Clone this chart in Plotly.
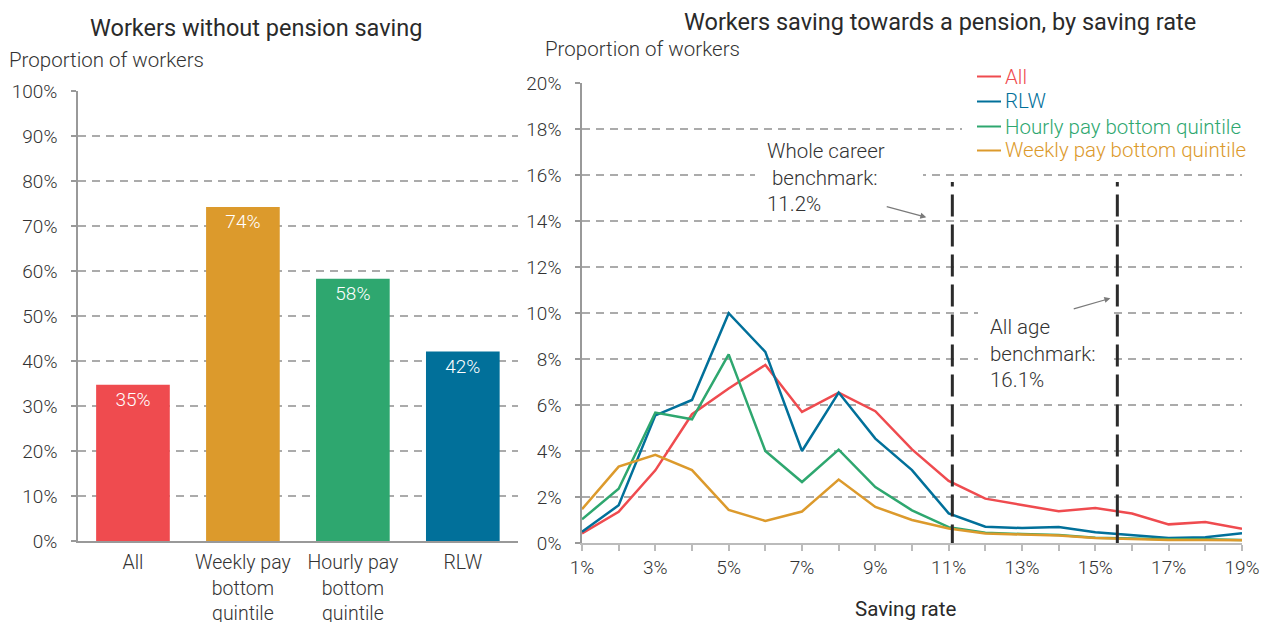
import plotly.graph_objects as go

# ---------------- data ----------------
bar_categories = ["All", "Weekly pay<br>bottom<br>quintile", "Hourly pay<br>bottom<br>quintile", "RLW"]
bar_values = [34.7, 74.2, 58.3, 42.1]
bar_labels = ["35%", "74%", "58%", "42%"]

saving_rate = list(range(1, 20))
all_workers = [0.42, 1.36, 3.16, 5.6, 6.72, 7.74, 5.70, 6.54, 5.73, 4.07, 2.70,
               1.93, 1.65, 1.38, 1.52, 1.28, 0.81, 0.91, 0.62]
rlw = [0.49, 1.64, 5.55, 6.22, 9.99, 8.31, 4.0, 6.54, 4.54, 3.17, 1.29,
       0.71, 0.65, 0.70, 0.47, 0.35, 0.22, 0.25, 0.42]
hourly_bottom = [1.03, 2.36, 5.67, 5.38, 8.20, 4.0, 2.65, 4.06, 2.43, 1.42, 0.69,
                 0.45, 0.39, 0.35, 0.23, 0.19, 0.16, 0.16, 0.13]
weekly_bottom = [1.47, 3.32, 3.83, 3.17, 1.44, 0.96, 1.37, 2.76, 1.57, 1.0, 0.63,
                 0.41, 0.37, 0.33, 0.22, 0.17, 0.13, 0.13, 0.12]
series_names = ["All", "RLW", "Hourly pay bottom quintile", "Weekly pay bottom quintile"]

left_yticks = list(range(0, 101, 10))
left_yticktext = [f"{v}%" for v in left_yticks]
right_yticks = list(range(0, 21, 2))
right_yticktext = [f"{v}%" for v in right_yticks]
right_xticktext = [f"{v}%" if v % 2 == 1 else "" for v in saving_rate]

benchmarks = [11.1, 15.6]

RED = "#EF4B4F"
ORANGE = "#DC9A2C"
GREEN = "#2EA76F"
BLUE = "#01709A"
TEXT = "#333333"
GRID = "#ABABAB"
FONT = "Roboto"
W, H = 1266, 622

fig = go.Figure()

fig.add_trace(go.Bar(
    x=bar_categories, y=bar_values, text=bar_labels,
    marker=dict(color=[RED, ORANGE, GREEN, BLUE], line=dict(width=0)),
    textposition="inside", insidetextanchor="end",
    textfont=dict(color="white", size=19, family=FONT, weight=300),
    width=0.67, xaxis="x", yaxis="y", showlegend=False, cliponaxis=False,
))

series_vals = [all_workers, rlw, hourly_bottom, weekly_bottom]
series_cols = [RED, BLUE, GREEN, ORANGE]
for name, vals, col in zip(series_names, series_vals, series_cols):
    fig.add_trace(go.Scatter(
        x=saving_rate, y=vals, mode="lines", name=name,
        line=dict(color=col, width=2.5), showlegend=False,
        xaxis="x2", yaxis="y2",
    ))


def px_rect(x0, x1, y0, y1):
    fig.add_shape(type="rect", xref="paper", yref="paper", layer="above",
                  x0=x0 / W, x1=x1 / W, y0=1 - y1 / H, y1=1 - y0 / H,
                  fillcolor="white", line=dict(width=0))


# white boxes behind legend and annotation texts (hide the gridlines there)
px_rect(962, 1262, 62, 165)
px_rect(755, 923, 140, 212)
px_rect(978, 1113, 300, 392)

for b in benchmarks:
    fig.add_shape(type="line", xref="x2", yref="y2", x0=b, x1=b, y0=-0.15, y1=15.7,
                  layer="above", line=dict(color="#2B2B2B", width=3, dash="22px,8px"))

axis_font = dict(family=FONT, size=19, color=TEXT, weight=300)

fig.update_layout(
    width=W, height=H,
    margin=dict(l=0, r=0, t=0, b=0, autoexpand=False),
    paper_bgcolor="white", plot_bgcolor="white",
    font=dict(family=FONT, color=TEXT),
    showlegend=False,
    xaxis=dict(domain=[0.0616, 0.409], showgrid=False, showline=True, automargin=False,
               linecolor="#999999", linewidth=1.5,
               tickfont=dict(family=FONT, size=19.5, color=TEXT, weight=300),
               ticks="outside", ticklen=3, tickcolor="rgba(0,0,0,0)", fixedrange=True),
    yaxis=dict(domain=[1 - 541 / H, 1 - 91 / H], range=[0, 100], tickvals=left_yticks,
               automargin=False, ticktext=left_yticktext, showgrid=True, gridcolor=GRID,
               gridwidth=2, griddash="8px,6px", showline=True, linecolor="#999999",
               linewidth=1.5, ticks="outside", ticklen=5, tickcolor="#999999", tickwidth=1.5,
               ticklabelstandoff=10, tickfont=axis_font, zeroline=False),
    xaxis2=dict(domain=[582 / W, 1242 / W], range=[1, 19], tickvals=saving_rate,
                automargin=False, ticktext=right_xticktext, showgrid=False, showline=True,
                linecolor="#BBBBBB", linewidth=2, ticks="outside", ticklen=6,
                tickcolor="#BBBBBB", tickwidth=1.5, tickfont=axis_font,
                zeroline=False, anchor="y2"),
    yaxis2=dict(domain=[1 - 543 / H, 1 - 83 / H], range=[0, 20], tickvals=right_yticks,
                automargin=False, ticktext=right_yticktext, showgrid=True, gridcolor=GRID,
                gridwidth=2, griddash="8px,6px", showline=True, linecolor="#999999",
                linewidth=1.5, ticks="outside", ticklen=5, tickcolor="#999999", tickwidth=1.5,
                ticklabelstandoff=10, tickfont=axis_font, zeroline=False, anchor="x2"),
)

ann = []
title_font = dict(family=FONT, size=23.5, color="#2A2A2A", weight=400)
label_font = dict(family=FONT, size=20.5, color=TEXT, weight=300)
ann.append(dict(text="Workers without pension saving", x=256 / W, y=1 - 28 / H,
                xref="paper", yref="paper", showarrow=False, xanchor="center",
                yanchor="middle", font=title_font))
ann.append(dict(text="Workers saving towards a pension, by saving rate", x=940 / W,
                y=1 - 22 / H, xref="paper", yref="paper", showarrow=False,
                xanchor="center", yanchor="middle", font=title_font))
ann.append(dict(text="Proportion of workers", x=7 / W, y=1 - 60 / H, xref="paper",
                yref="paper", showarrow=False, xanchor="left", yanchor="middle",
                font=label_font))
ann.append(dict(text="Proportion of workers", x=543 / W, y=1 - 49 / H, xref="paper",
                yref="paper", showarrow=False, xanchor="left", yanchor="middle",
                font=label_font))
ann.append(dict(text="Saving rate", x=906 / W, y=1 - 609 / H, xref="paper", yref="paper",
                showarrow=False, xanchor="center", yanchor="middle",
                font=dict(family=FONT, size=20.5, color="#2A2A2A", weight=400)))

# legend (drawn manually to match spacing)
legend_y = [76.5, 101.5, 126.5, 150.5]
for name, col, ly in zip(series_names, series_cols, legend_y):
    fig.add_shape(type="line", xref="paper", yref="paper", x0=977 / W, x1=1001 / W,
                  y0=1 - ly / H, y1=1 - ly / H, layer="above", line=dict(color=col, width=2))
    ann.append(dict(text=name, x=1003 / W, y=1 - ly / H, xref="paper", yref="paper",
                    showarrow=False, xanchor="left", yanchor="middle",
                    font=dict(family=FONT, size=20.5, color=col, weight=300)))

ann.append(dict(text="Whole career<br> benchmark:<br>11.2%", x=6.0, y=17.65, xref="x2",
                yref="y2", showarrow=False, xanchor="left", yanchor="top", align="left",
                font=label_font))
ann.append(dict(text="All age<br>benchmark:<br>16.1%", x=12.08, y=9.99, xref="x2", yref="y2",
                showarrow=False, xanchor="left", yanchor="top", align="left",
                font=label_font))
# arrows
ann.append(dict(text="", x=10.39, y=14.16, ax=9.27, ay=14.64, xref="x2", yref="y2",
                axref="x2", ayref="y2", showarrow=True, arrowhead=2, arrowsize=1,
                arrowwidth=1.2, arrowcolor="#7A7A7A"))
ann.append(dict(text="", x=15.41, y=10.64, ax=14.37, ay=10.16, xref="x2", yref="y2",
                axref="x2", ayref="y2", showarrow=True, arrowhead=2, arrowsize=1,
                arrowwidth=1.2, arrowcolor="#7A7A7A"))
fig.update_layout(annotations=ann)

fig.write_html("out.html", config={"displayModeBar": False},
               post_script="document.body.style.margin='0';")
